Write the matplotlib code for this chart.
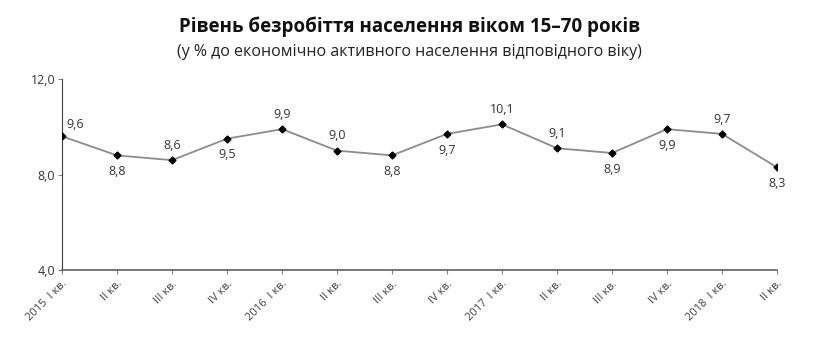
import matplotlib
matplotlib.use("Agg")
import matplotlib.pyplot as plt

plt.rcParams['font.family'] = ['Open Sans', 'DejaVu Sans']

categories = ["2015  І кв.", "ІІ кв.", "ІІІ кв.", "ІV кв.", "2016  І кв.", "ІІ кв.", "ІІІ кв.",
              "ІV кв.", "2017  І кв.", "ІІ кв.", "ІІІ кв.", "ІV кв.", "2018  І кв.", "ІІ кв."]
values = [9.6, 8.8, 8.6, 9.5, 9.9, 9.0, 8.8, 9.7, 10.1, 9.1, 8.9, 9.9, 9.7, 8.3]
label_pos = ["ar", "b", "a", "b", "a", "a", "b", "b", "a", "a", "b", "b", "a", "b"]
yticks = [4.0, 8.0, 12.0]

fig = plt.figure(figsize=(8.19, 3.53), dpi=100)
ax = fig.add_axes([62/819, 1-270/353, (777-62)/819, (270-79)/353])

x = list(range(len(values)))
ax.plot(x, values, color="#8c8c8c", lw=1.3, marker="D", ms=3.5,
        markerfacecolor="black", markeredgecolor="black", zorder=3)

for xi, v, p in zip(x, values, label_pos):
    txt = f"{v:.1f}".replace(".", ",")
    if p == "a":
        ax.annotate(txt, (xi, v), xytext=(0, 6), textcoords="offset points",
                    ha="center", va="bottom", fontsize=9, color="#333333")
    elif p == "ar":
        ax.annotate(txt, (xi, v), xytext=(3, 4), textcoords="offset points",
                    ha="left", va="bottom", fontsize=9, color="#333333")
    else:
        ax.annotate(txt, (xi, v), xytext=(0, -7), textcoords="offset points",
                    ha="center", va="top", fontsize=9, color="#333333")

ax.set_xlim(0, len(values) - 1)
ax.set_ylim(4, 12)
ax.set_yticks(yticks)
ax.set_yticklabels([f"{t:.1f}".replace(".", ",") for t in yticks], fontsize=9, color="#333333")
ax.set_xticks(x)
ax.set_xticklabels(categories, rotation=45, ha="right", rotation_mode="anchor",
                   fontsize=8, color="#404040")
ax.tick_params(axis="x", length=3, color="#808080", pad=3)
ax.tick_params(axis="y", length=3, color="#808080", pad=2)
for s in ["top", "right"]:
    ax.spines[s].set_visible(False)
ax.spines["left"].set_color("#404040")
ax.spines["bottom"].set_color("#606060")
ax.spines["bottom"].set_linewidth(1.2)

fig.text(0.5, 1-27/353, "Рівень безробіття населення віком 15–70 років", ha="center", va="center",
         fontsize=13.5, fontweight="bold", color="#111111")
fig.text(0.5, 1-52/353, "(у % до економічно активного населення відповідного віку)", ha="center",
         va="center", fontsize=11.5, color="#222222")

fig.savefig("out.png", dpi=100)
